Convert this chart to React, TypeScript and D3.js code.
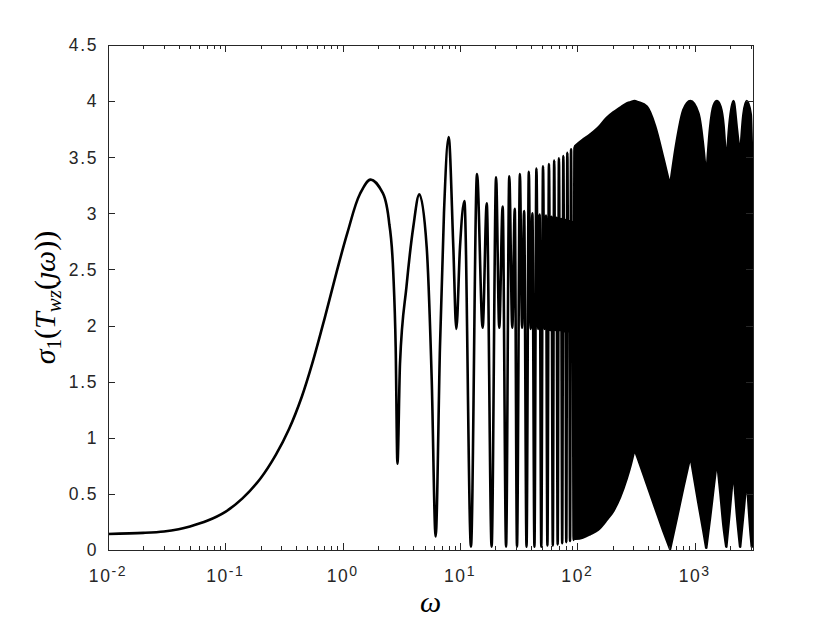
import React, { useEffect, useRef } from "react";
import * as d3 from "d3";

// low frequency part
const riseOmega = [0.01, 0.02, 0.03, 0.04, 0.05, 0.07, 0.1, 0.14, 0.2, 0.27, 0.35, 0.45, 0.55, 0.7, 0.9, 1.1, 1.4, 1.73, 2.2, 2.5, 2.7, 2.83, 2.93];
const riseSigma = [0.143, 0.153, 0.165, 0.185, 0.21, 0.26, 0.34, 0.46, 0.64, 0.85, 1.08, 1.37, 1.66, 2.06, 2.5, 2.83, 3.17, 3.3, 3.18, 2.9, 2.47, 1.81, 0.77];

// oscillating part where the single strokes can still be told apart
const waveOmega = [
  3.08, 3.5, 4.0, 4.5, 5.2, 5.74, 6.2, 6.75, 7.3, 8.0, 8.77, 9.3, 10.0, 10.9, 12.4,
  13.96, 15.6, 16.9, 18.6, 20.3, 21.6, 23.1, 24.7, 26.3, 27.9, 29.3, 30.6,
  32.4, 33.8, 35.2, 36.9, 38.6, 40.0, 41.4, 43.1, 44.8, 46.3, 47.7, 49.3,
  51.0, 52.5, 54.0, 55.6, 57.3, 58.8, 60.2, 61.8, 63.5, 65.0, 66.4, 68.0,
  69.7, 71.2, 72.7, 74.3, 76.0, 77.5, 78.9, 80.5, 82.2, 83.7, 85.2, 86.7,
  88.4, 89.9, 91.4, 93.0, 94.6, 96.1, 97.6, 99.2,
];
const waveSigma = [
  1.66, 2.35, 2.88, 3.17, 2.7, 1.52, 0.12, 1.81, 3.0, 3.68, 2.7, 1.97, 2.7, 3.11, 0.03,
  3.35, 1.98, 3.09, 0.03, 3.32, 1.98, 3.06, 0.03, 3.33, 1.98, 3.04, 0.03,
  3.35, 1.98, 3.02, 0.03, 3.37, 1.97, 3.0, 0.03, 3.4, 1.97, 2.99, 0.03,
  3.42, 1.97, 2.98, 0.04, 3.44, 1.96, 2.97, 0.04, 3.47, 1.96, 2.96, 0.05,
  3.49, 1.96, 2.95, 0.06, 3.51, 1.95, 2.94, 0.07, 3.54, 1.95, 2.93, 0.08,
  3.57, 1.94, 2.92, 0.09, 3.59, 1.94, 2.91, 0.1,
];

// dense part, drawn as the band between its upper and lower envelope
const bandOmega = [96, 110, 128, 150, 178, 203, 231, 264, 285, 307, 330, 391, 459, 541, 617, 703, 801, 920, 1076, 1187, 1255, 1353, 1450, 1550, 1660, 1759, 1860, 1978, 2140, 2286, 2440, 2603, 2780, 3008, 3069, 3142];
const bandTop = [3.6, 3.65, 3.7, 3.76, 3.85, 3.9, 3.94, 3.98, 3.99, 4.0, 3.99, 3.95, 3.78, 3.49, 3.24, 3.64, 3.92, 4.0, 3.89, 3.58, 3.3, 3.76, 3.96, 4.0, 3.95, 3.79, 3.4, 3.79, 4.0, 3.76, 3.49, 3.88, 4.0, 3.88, 3.6, 3.35];
const bandBottom = [0.1, 0.11, 0.14, 0.18, 0.27, 0.35, 0.47, 0.64, 0.76, 0.9, 0.81, 0.59, 0.38, 0.17, 0.01, 0.28, 0.56, 0.84, 0.42, 0.17, 0.02, 0.29, 0.56, 0.81, 0.5, 0.22, 0.03, 0.32, 0.73, 0.33, 0.03, 0.33, 0.665, 0.13, 0.03, 0.12];

const yTicks = [0, 0.5, 1, 1.5, 2, 2.5, 3, 3.5, 4, 4.5];

function App() {
  const svgRef = useRef(null);
  const [width, height] = [830, 623];
  const margin = { top: 45, right: 77, bottom: 73, left: 108 };

  useEffect(() => {
    const svg = d3.select(svgRef.current);
    svg.selectAll("*").remove();

    const x = d3
      .scaleLog()
      .domain([0.01, 3141.6])
      .range([margin.left, width - margin.right]);
    const y = d3
      .scaleLinear()
      .domain([0, 4.5])
      .range([height - margin.bottom, margin.top]);

    const [x0, x1] = x.range();
    const [y0, y1] = y.range();

    svg
      .append("clipPath")
      .attr("id", "plotclip")
      .append("rect")
      .attr("x", x0)
      .attr("y", y1)
      .attr("width", x1 - x0)
      .attr("height", y0 - y1);

    const plot = svg.append("g").attr("clip-path", "url(#plotclip)");

    const mono = d3
      .line()
      .x((d) => x(d[0]))
      .y((d) => y(d[1]))
      .curve(d3.curveMonotoneX);

    // monotone pieces, broken at the cusps so they stay sharp
    const pieces = (pts, isBreak) => {
      let d = "";
      let start = 0;
      for (let i = 1; i < pts.length; i++) {
        if (i === pts.length - 1 || isBreak(pts, i)) {
          const s = mono(pts.slice(start, i + 1));
          d += d ? s.replace(/^M/, "L") : s;
          start = i;
        }
      }
      return d;
    };
    const isMin = (p, i) => i < p.length - 1 && p[i][1] < p[i - 1][1] && p[i][1] < p[i + 1][1];
    const isExt = (p, i) =>
      i < p.length - 1 &&
      (p[i][1] - p[i - 1][1]) * (p[i + 1][1] - p[i][1]) < 0;

    // dense band
    const top = bandOmega.map((w, i) => [w, bandTop[i]]);
    const bottom = bandOmega.map((w, i) => [w, bandBottom[i]]).reverse();
    const bandPath =
      pieces(top, isMin) + pieces(bottom, isExt).replace(/^M/, "L") + "Z";
    plot
      .append("path")
      .attr("d", bandPath)
      .attr("fill", "#000")
      .attr("stroke", "#000")
      .attr("stroke-width", 2.6)
      .attr("stroke-linejoin", "round");

    // traced curve: smooth rise, then the oscillations
    const rise = riseOmega.map((w, i) => [w, riseSigma[i]]);
    const smooth = d3
      .line()
      .x((d) => x(d[0]))
      .y((d) => y(d[1]))
      .curve(d3.curveCatmullRom.alpha(0.5));
    const cut = riseOmega.indexOf(2.5);
    const wave = rise.slice(cut).concat(waveOmega.map((w, i) => [w, waveSigma[i]]));
    plot
      .append("path")
      .attr("d", smooth(rise.slice(0, cut + 1)) + mono(wave).replace(/^M/, "L"))
      .attr("fill", "none")
      .attr("stroke", "#000")
      .attr("stroke-width", 2.6)
      .attr("stroke-linejoin", "round");

    // axes box and ticks (matlab style, ticks inside on all four sides)
    const axisColor = "#262626";
    const axes = svg.append("g").attr("shape-rendering", "crispEdges");
    axes
      .append("rect")
      .attr("x", x0 + 0.5)
      .attr("y", y1 + 0.5)
      .attr("width", x1 - x0)
      .attr("height", y0 - y1)
      .attr("fill", "none")
      .attr("stroke", axisColor)
      .attr("stroke-width", 1);

    const isDecade = (t) => Math.abs(Math.log10(t) - Math.round(Math.log10(t))) < 1e-9;
    const xt = x.ticks().filter((t) => t >= 0.01 && t <= 3141.6);
    xt.forEach((t) => {
      const len = isDecade(t) ? 7 : 4;
      const px = Math.round(x(t)) + 0.5;
      axes.append("line").attr("x1", px).attr("x2", px).attr("y1", y0).attr("y2", y0 - len).attr("stroke", axisColor);
      axes.append("line").attr("x1", px).attr("x2", px).attr("y1", y1).attr("y2", y1 + len).attr("stroke", axisColor);
    });

    yTicks.forEach((t) => {
      const py = Math.round(y(t)) + 0.5;
      axes.append("line").attr("x1", x0).attr("x2", x0 + 7).attr("y1", py).attr("y2", py).attr("stroke", axisColor);
      axes.append("line").attr("x1", x1).attr("x2", x1 - 7).attr("y1", py).attr("y2", py).attr("stroke", axisColor);
    });

    const labels = svg
      .append("g")
      .attr("font-family", "'Liberation Sans', Arial, sans-serif")
      .attr("fill", axisColor);

    labels
      .selectAll(".ylab")
      .data(yTicks)
      .join("text")
      .attr("class", "ylab")
      .attr("x", x0 - 10)
      .attr("y", (d) => y(d))
      .attr("dy", "0.36em")
      .attr("text-anchor", "end")
      .attr("font-size", 17.5)
      .attr("letter-spacing", 1.6)
      .text((d) => String(d));

    xt.filter(isDecade).forEach((t) => {
      const tx = labels
        .append("text")
        .attr("x", x(t))
        .attr("y", y0 + 32)
        .attr("text-anchor", "middle")
        .attr("font-size", 17.5)
        .attr("letter-spacing", 1.6);
      tx.append("tspan").text("10");
      tx.append("tspan")
        .attr("dy", -6)
        .attr("font-size", 14)
        .text(String(Math.round(Math.log10(t))));
    });

    // axis titles
    const serif = "'Liberation Serif', 'Times New Roman', serif";
    svg
      .append("text")
      .attr("x", (x0 + x1) / 2)
      .attr("y", 612)
      .attr("text-anchor", "middle")
      .attr("font-family", serif)
      .attr("font-style", "italic")
      .attr("font-size", 30)
      .attr("fill", "#000")
      .text("ω");

    const yl = svg
      .append("text")
      .attr("transform", `translate(55,${(y0 + y1) / 2}) rotate(-90)`)
      .attr("text-anchor", "middle")
      .attr("font-family", serif)
      .attr("font-size", 30)
      .attr("fill", "#000");
    yl.append("tspan").attr("font-style", "italic").text("σ");
    yl.append("tspan").attr("font-size", 21).attr("dy", 6).text("1");
    yl.append("tspan").attr("dy", -6).text("(");
    yl.append("tspan").attr("font-style", "italic").text("T");
    yl.append("tspan").attr("font-style", "italic").attr("font-size", 21).attr("dy", 6).text("wz");
    yl.append("tspan").attr("dy", -6).text("(");
    yl.append("tspan")
      .attr("font-style", "italic")
      .attr("font-family", "'DejaVu Serif', serif")
      .attr("font-size", 26)
      .text("ȷ");
    yl.append("tspan").attr("font-style", "italic").text("ω");
    yl.append("tspan").text("))");
  }, []);

  return (
    <div>
      <svg
        ref={svgRef}
        width={width}
        height={height}
        style={{ position: "absolute", left: 0, top: 0, background: "#fff" }}
      ></svg>
    </div>
  );
}

export default App;
